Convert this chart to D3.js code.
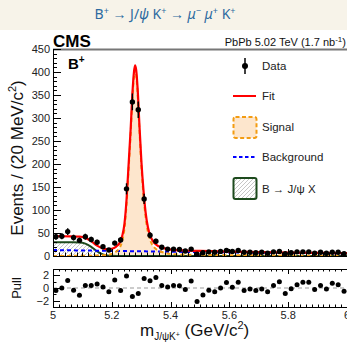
<!DOCTYPE html>
<html><head><meta charset="utf-8">
<script src="https://cdn.jsdelivr.net/npm/d3@7/dist/d3.min.js"></script>
<style>
html,body{margin:0;padding:0;background:#fff;}
svg{display:block;font-family:"Liberation Sans",Arial,sans-serif;}
</style></head>
<body>
<svg id="c" width="347" height="344"></svg>
<script>
// ---------- DATA ----------
const binCenters = [5.01,5.03,5.05,5.07,5.09,5.11,5.13,5.15,5.17,5.19,
  5.21,5.23,5.25,5.27,5.29,5.31,5.33,5.35,5.37,5.39,
  5.41,5.43,5.45,5.47,5.49,5.51,5.53,5.55,5.57,5.59,
  5.61,5.63,5.65,5.67,5.69,5.71,5.73,5.75,5.77,5.79,
  5.81,5.83,5.85,5.87,5.89,5.91,5.93,5.95,5.97,5.99];
const counts = [42,43,53,40,34,42,36,30,20,13,
  28,35,146,335,318,124,45,32,19,15,
  15,14,11,15,4,7,9,8,10,12,
  10,12,8,8,7,8,6,9,10,5,
  7,9,9,9,6,8,6,8,8,5];
const pulls = [-0.4,0.0,1.2,-0.35,-1.15,0.4,0.4,0.65,0.15,-0.6,
  1.25,-0.4,1.9,-1.35,-0.85,1.5,1.15,1.65,0.4,0.15,
  0.4,0.35,-0.25,1.1,-2.15,-1.1,-0.35,-0.6,0.0,0.85,
  0.1,0.9,-0.4,-0.15,-0.4,-0.15,-0.6,0.4,1.0,-0.85,
  -0.1,0.5,0.9,0.9,-0.25,0.4,-0.15,0.75,0.5,-0.5];
const curveMass = [5.00,5.03,5.06,5.09,5.11,5.13,5.15,5.17,5.185,5.20,
  5.215,5.228,5.236,5.243,5.2504,5.2572,5.264,5.2702,5.2753,5.279,
  5.283,5.2878,5.294,5.3008,5.3076,5.315,5.323,5.332,5.345,5.36,
  5.38,5.40,5.45,5.50,5.60,5.70,5.80,5.90,6.00];
const fitCurve = [43.2,42.9,42.5,42.0,39.4,32.4,22.5,16.4,14.9,15.8,
  20.5,30,45,70,125,199.5,274.5,354.4,399.4,414.4,
  404.3,364.3,284.3,204.2,144.2,95,62,42,28,21,
  16.5,13.9,11.9,11.0,9.6,8.5,7.6,6.9,6.3];
const signalCurve = [0.2,0.2,0.3,0.4,0.5,0.7,1.0,1.6,2.55,4.5,
  9.6,19.2,34.3,59.35,114.4,188.95,264,343.95,389,404.05,
  394,354,274.05,194,134.05,84.9,52,32.05,18.2,11.35,
  7.05,4.6,3,2.5,1.8,1.3,0.9,0.6,0.3];
const bkgCurve = [13,12.7,12.4,12.1,11.9,11.7,11.5,11.3,11.15,11.0,
  10.9,10.8,10.7,10.65,10.6,10.55,10.5,10.45,10.4,10.35,
  10.3,10.3,10.25,10.2,10.15,10.1,10.0,9.95,9.8,9.65,
  9.45,9.3,8.9,8.5,7.8,7.2,6.7,6.3,6.0];
const partRecoCurve = [30,30,29.8,29.5,27,20,10,3.5,1.2,0.3,
  0,0,0,0,0,0,0,0,0,0,
  0,0,0,0,0,0,0,0,0,0,
  0,0,0,0,0,0,0,0,0];
const yTicksMain = [0,50,100,150,200,250,300,350,400,450];
const xTicks = [5.0,5.2,5.4,5.6,5.8,6.0];
const xTickLabels = ["5","5.2","5.4","5.6","5.8","6"];
const pullTicks = [-2,0,2];
const pullTickLabels = ["\u22122","0","2"];
const legendLabels = ["Data","Fit","Signal","Background","B \u2192 J/\u03c8 X"];

// ---------- LAYOUT ----------
const svg = d3.select("#c");
const x = d3.scaleLinear().domain([5,6]).range([53,347]);
const y = d3.scaleLinear().domain([0,450]).range([256,49]);
const yp = d3.scaleLinear().domain([-3,3]).range([307,269]);

// header band
svg.append("rect").attr("x",0).attr("y",0).attr("width",347).attr("height",30).attr("fill","#f7f3e9");
const tt = svg.append("text").attr("x",165).attr("y",19).attr("text-anchor","middle")
  .attr("font-family","'Noto Sans',sans-serif").attr("font-size",14).attr("fill","#2c6aa0");
tt.append("tspan").text("B");
tt.append("tspan").attr("font-size",9).attr("dy",-5).text("+");
tt.append("tspan").attr("dy",5).text(" \u2192 J/");
tt.append("tspan").attr("font-style","italic").text("\u03c8");
tt.append("tspan").text(" K");
tt.append("tspan").attr("font-size",9).attr("dy",-5).text("+");
tt.append("tspan").attr("dy",5).text(" \u2192 ");
tt.append("tspan").attr("font-style","italic").text("\u03bc");
tt.append("tspan").attr("font-size",9).attr("dy",-5).text("\u2212");
tt.append("tspan").attr("dy",5).attr("font-style","italic").text(" \u03bc");
tt.append("tspan").attr("font-size",9).attr("dy",-5).text("+");
tt.append("tspan").attr("dy",5).text(" K");
tt.append("tspan").attr("font-size",9).attr("dy",-5).text("+");

// defs
const defs = svg.append("defs");
const pat = defs.append("pattern").attr("id","hatch").attr("patternUnits","userSpaceOnUse")
  .attr("width",4).attr("height",4);
pat.append("rect").attr("width",4).attr("height",4).attr("fill","#fff");
pat.append("path").attr("d","M-1,1 l2,-2 M0,4 l4,-4 M3,5 l2,-2").attr("stroke","#b8b8b8").attr("stroke-width",0.8);
defs.append("clipPath").attr("id","clipMain").append("rect")
  .attr("x",53).attr("y",49).attr("width",294).attr("height",207);

const pts = curveMass.map((m,i)=>({m, fit:fitCurve[i], sig:signalCurve[i], bkg:bkgCurve[i], pr:partRecoCurve[i]}));
const g = svg.append("g").attr("clip-path","url(#clipMain)");
const area = key => d3.area().x(d=>x(d.m)).y0(y(0)).y1(d=>y(d[key])).curve(d3.curveMonotoneX);
const line = key => d3.line().x(d=>x(d.m)).y(d=>y(d[key])).curve(d3.curveMonotoneX);

g.append("path").datum(pts).attr("d",area("pr")).attr("fill","url(#hatch)");
g.append("path").datum(pts).attr("d",area("sig")).attr("fill","#fde6cd");
g.append("path").datum(pts).attr("d",line("pr")).attr("fill","none").attr("stroke","#1d4a1d").attr("stroke-width",2);
g.append("path").datum(pts).attr("d",line("bkg")).attr("fill","none").attr("stroke","#0000ff").attr("stroke-width",2).attr("stroke-dasharray","4,3");
g.append("path").datum(pts).attr("d",line("sig")).attr("fill","none").attr("stroke","#f39c12").attr("stroke-width",2).attr("stroke-dasharray","4,3");
g.append("path").datum(pts).attr("d",line("fit")).attr("fill","none").attr("stroke","#ff0000").attr("stroke-width",2.2);

// data
const data = binCenters.map((m,i)=>({m, n:counts[i], p:pulls[i]}));
const dg = svg.append("g");
dg.selectAll("line.eb").data(data).enter().append("line")
  .attr("x1",d=>x(d.m)).attr("x2",d=>x(d.m))
  .attr("y1",d=>y(d.n+Math.sqrt(d.n))).attr("y2",d=>y(Math.max(0,d.n-Math.sqrt(d.n))))
  .attr("stroke","#000").attr("stroke-width",1.4);
dg.selectAll("circle").data(data).enter().append("circle")
  .attr("cx",d=>x(d.m)).attr("cy",d=>y(d.n)).attr("r",2.7).attr("fill","#000");

// main frame
svg.append("line").attr("x1",53).attr("x2",347).attr("y1",49.5).attr("y2",49.5).attr("stroke","#777").attr("stroke-width",2);
const ax = svg.append("g").attr("stroke","#000").attr("stroke-width",1);
ax.append("line").attr("x1",53.5).attr("x2",53.5).attr("y1",49).attr("y2",256.5);
ax.append("line").attr("x1",53).attr("x2",347).attr("y1",256.5).attr("y2",256.5);
d3.range(0,451,10).forEach(v=>{
  const major = v%50===0;
  ax.append("line").attr("x1",53).attr("x2",53+(major?8:4)).attr("y1",Math.round(y(v))+0.5).attr("y2",Math.round(y(v))+0.5);
});
d3.range(5,6.0001,0.02).forEach(v=>{
  const major = Math.abs(Math.round(v*5)-v*5)<1e-6;
  ax.append("line").attr("x1",Math.round(x(v))+0.5).attr("x2",Math.round(x(v))+0.5).attr("y1",256).attr("y2",256-(major?7:3.5));
});
svg.selectAll("text.ytl").data(yTicksMain).enter().append("text")
  .attr("x",50).attr("y",d=>y(d)+4).attr("text-anchor","end").attr("font-size",11).attr("fill","#222").text(d=>d);

// header texts
svg.append("text").attr("x",53).attr("y",47).attr("font-size",17).attr("font-weight","bold").text("CMS");
const lumi = svg.append("text").attr("x",346).attr("y",46).attr("text-anchor","end").attr("font-size",11).attr("fill","#111");
lumi.append("tspan").text("PbPb 5.02 TeV (1.7 nb");
lumi.append("tspan").attr("font-size",8).attr("dy",-4).text("-1");
lumi.append("tspan").attr("dy",4).text(")");
const bp = svg.append("text").attr("x",68).attr("y",69).attr("font-size",15).attr("font-weight","bold");
bp.append("tspan").text("B");
bp.append("tspan").attr("font-size",10).attr("dy",-6).text("+");

// y title
const yt = svg.append("text").attr("transform","translate(23,158) rotate(-90)").attr("text-anchor","middle").attr("font-size",17).attr("fill","#111");
yt.append("tspan").text("Events / (20 MeV/c");
yt.append("tspan").attr("font-size",11).attr("dy",-7).text("2");
yt.append("tspan").attr("dy",7).text(")");

// legend
const lg = svg.append("g").attr("font-size",11.5).attr("fill","#222");
lg.append("line").attr("x1",245).attr("x2",245).attr("y1",58).attr("y2",74).attr("stroke","#000").attr("stroke-width",1.5);
lg.append("circle").attr("cx",245).attr("cy",66).attr("r",3).attr("fill","#000");
lg.append("line").attr("x1",233).attr("x2",256).attr("y1",96).attr("y2",96).attr("stroke","#ff0000").attr("stroke-width",2);
lg.append("rect").attr("x",233.5).attr("y",117).attr("width",23).attr("height",21).attr("rx",2)
  .attr("fill","#fde6cd").attr("stroke","#f39c12").attr("stroke-width",2).attr("stroke-dasharray","4,2.5");
lg.append("line").attr("x1",233).attr("x2",256).attr("y1",157).attr("y2",157).attr("stroke","#0000ff").attr("stroke-width",2).attr("stroke-dasharray","3.5,2.5");
lg.append("rect").attr("x",233.5).attr("y",178).attr("width",23).attr("height",21).attr("rx",2)
  .attr("fill","url(#hatch)").attr("stroke","#1d4a1d").attr("stroke-width",2);
const legY = [66,96,127,157,189];
lg.selectAll("text").data(legendLabels).enter().append("text")
  .attr("x",262).attr("y",(d,i)=>legY[i]+4).text(d=>d);

// pull panel
const pg = svg.append("g");
pg.append("line").attr("x1",53).attr("x2",347).attr("y1",yp(0)).attr("y2",yp(0)).attr("stroke","#999").attr("stroke-width",1).attr("stroke-dasharray","4,3");
pg.selectAll("circle").data(data).enter().append("circle")
  .attr("cx",d=>x(d.m)).attr("cy",d=>yp(d.p)).attr("r",2.5).attr("fill","#000");
const pa = svg.append("g").attr("stroke","#000").attr("stroke-width",1);
pa.append("line").attr("x1",53).attr("x2",347).attr("y1",269.5).attr("y2",269.5);
pa.append("line").attr("x1",53).attr("x2",347).attr("y1",307.5).attr("y2",307.5);
pa.append("line").attr("x1",53.5).attr("x2",53.5).attr("y1",269).attr("y2",308);
d3.range(5,6.0001,0.02).forEach(v=>{
  const major = Math.abs(Math.round(v*5)-v*5)<1e-6;
  const xx = Math.round(x(v))+0.5, L = major?5:2.5;
  pa.append("line").attr("x1",xx).attr("x2",xx).attr("y1",269).attr("y2",269+L);
  pa.append("line").attr("x1",xx).attr("x2",xx).attr("y1",307).attr("y2",307-L);
});
d3.range(-3,3.01,1).forEach(v=>{
  const major = pullTicks.includes(v);
  pa.append("line").attr("x1",53).attr("x2",53+(major?7:3.5)).attr("y1",Math.round(yp(v))+0.5).attr("y2",Math.round(yp(v))+0.5);
});
svg.selectAll("text.ptl").data(pullTicks).enter().append("text")
  .attr("x",49).attr("y",d=>yp(d)+4).attr("text-anchor","end").attr("font-size",11).attr("fill","#222")
  .text((d,i)=>pullTickLabels[i]);
svg.selectAll("text.xtl").data(xTicks).enter().append("text")
  .attr("x",d=>x(d)).attr("y",319).attr("text-anchor","middle").attr("font-size",11).attr("fill","#222")
  .text((d,i)=>xTickLabels[i]);
svg.append("text").attr("transform","translate(21,288) rotate(-90)").attr("text-anchor","middle").attr("font-size",13).attr("fill","#111").text("Pull");

// x title
const xt = svg.append("text").attr("x",140).attr("y",336).attr("font-size",17).attr("fill","#111");
xt.append("tspan").text("m");
xt.append("tspan").attr("font-size",10).attr("dy",4).text("J/\u03c8K");
xt.append("tspan").attr("font-size",7).attr("dy",-3).text("+");
xt.append("tspan").attr("dy",-1).text(" (GeV/c");
xt.append("tspan").attr("font-size",11).attr("dy",-7).text("2");
xt.append("tspan").attr("dy",7).text(")");
</script>
</body></html>
